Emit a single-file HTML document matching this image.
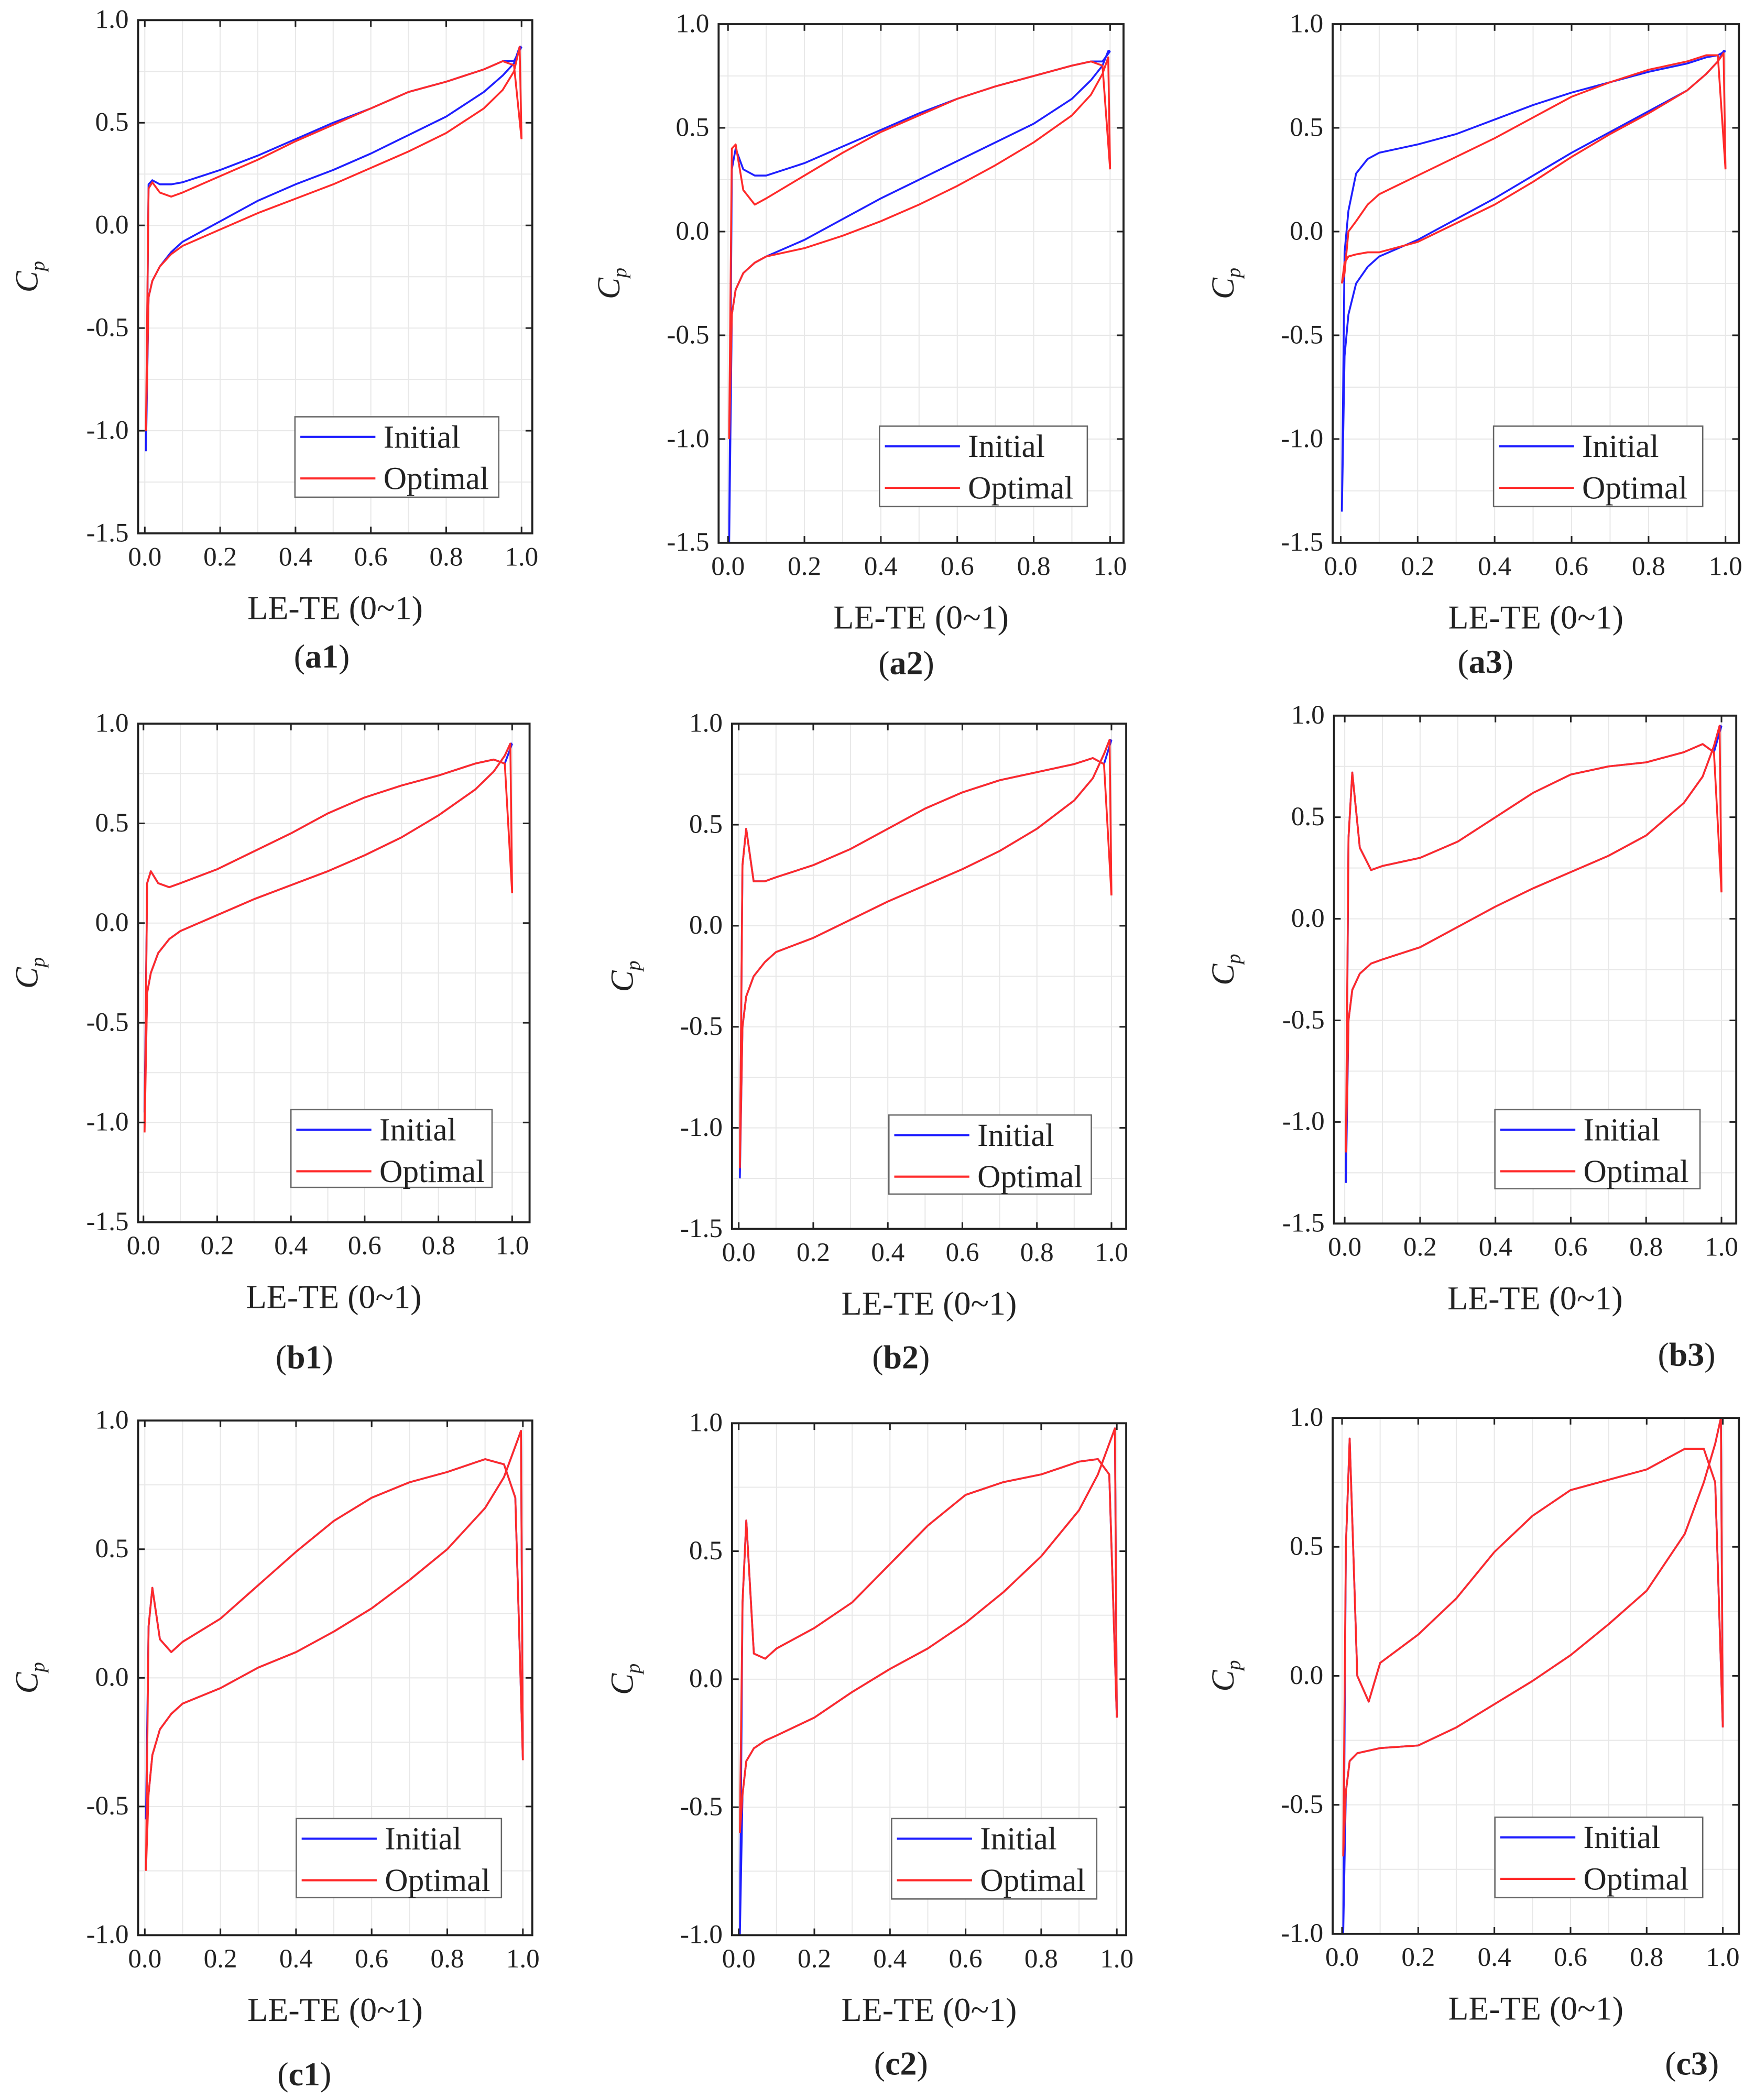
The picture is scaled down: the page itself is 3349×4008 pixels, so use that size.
<!DOCTYPE html>
<html><head><meta charset="utf-8"><style>
html,body{margin:0;padding:0;background:#fff;}
svg{display:block;}
text{font-family:"Liberation Serif","Times New Roman",serif;fill:#222;}
</style></head><body>
<svg id="fig" width="3349" height="4008" viewBox="0 0 1309 1567" preserveAspectRatio="none" xmlns="http://www.w3.org/2000/svg"></svg>
<script>
// chordwise stations for upper and lower branches
const xs = [0.01,0.02,0.04,0.07,0.1,0.2,0.3,0.4,0.5,0.6,0.7,0.8,0.9,0.95,0.98];
const xTicks = [0,0.2,0.4,0.6,0.8,1.0];
const xTickLabels = ["0.0","0.2","0.4","0.6","0.8","1.0"];
const yTicksAB = [1.0,0.5,0.0,-0.5,-1.0,-1.5];
const yTickLabelsAB = ["1.0","0.5","0.0","-0.5","-1.0","-1.5"];
const yTicksC = [1.0,0.5,0.0,-0.5,-1.0];
const yTickLabelsC = ["1.0","0.5","0.0","-0.5","-1.0"];
const panelNames = ["a1","a2","a3","b1","b2","b3","c1","c2","c3"];

// a1
const a1InitUpper = [0.2,0.22,0.2,0.2,0.21,0.27,0.34,0.42,0.5,0.57,0.65,0.7,0.76,0.8,0.8];
const a1InitLower = [-0.35,-0.27,-0.2,-0.13,-0.08,0.02,0.12,0.2,0.27,0.35,0.44,0.53,0.65,0.73,0.79];
const a1OptUpper = [0.18,0.21,0.16,0.14,0.16,0.24,0.32,0.41,0.49,0.57,0.65,0.7,0.76,0.8,0.78];
const a1OptLower = [-0.35,-0.27,-0.2,-0.14,-0.1,-0.02,0.06,0.13,0.2,0.28,0.36,0.45,0.57,0.66,0.75];
const a1LeMin = [-1.1,-1.0]; const a1TePeak = [0.87,0.87]; const a1TeEnd = [0.87,0.42];
// a2
const a2InitUpper = [0.3,0.4,0.3,0.27,0.27,0.33,0.41,0.49,0.57,0.64,0.7,0.75,0.8,0.82,0.82];
const a2InitLower = [-0.4,-0.28,-0.2,-0.15,-0.12,-0.04,0.06,0.16,0.25,0.34,0.43,0.52,0.64,0.73,0.8];
const a2OptUpper = [0.4,0.42,0.2,0.13,0.16,0.27,0.38,0.48,0.56,0.64,0.7,0.75,0.8,0.82,0.8];
const a2OptLower = [-0.4,-0.28,-0.2,-0.15,-0.12,-0.08,-0.02,0.05,0.13,0.22,0.32,0.43,0.56,0.66,0.76];
const a2LeMin = [-1.5,-1.0]; const a2TePeak = [0.87,0.84]; const a2TeEnd = [0.87,0.3];
// a3
const a3InitUpper = [-0.1,0.1,0.28,0.35,0.38,0.42,0.47,0.54,0.61,0.67,0.72,0.77,0.81,0.84,0.85];
const a3InitLower = [-0.6,-0.4,-0.25,-0.17,-0.12,-0.04,0.06,0.16,0.27,0.38,0.48,0.58,0.68,0.76,0.82];
const a3OptUpper = [-0.2,0.0,0.05,0.13,0.18,0.27,0.36,0.45,0.55,0.65,0.72,0.78,0.82,0.85,0.85];
const a3OptLower = [-0.15,-0.12,-0.11,-0.1,-0.1,-0.05,0.04,0.13,0.24,0.36,0.47,0.57,0.68,0.76,0.82];
const a3LeMin = [-1.35,-0.25]; const a3TePeak = [0.87,0.86]; const a3TeEnd = [0.87,0.3];
// b1
const b1Upper = [0.2,0.26,0.2,0.18,0.2,0.27,0.36,0.45,0.55,0.63,0.69,0.74,0.8,0.82,0.8];
const b1Lower = [-0.35,-0.25,-0.15,-0.08,-0.04,0.04,0.12,0.19,0.26,0.34,0.43,0.54,0.67,0.76,0.84];
const b1LeMin = [-0.95,-1.05]; const b1TePeak = [0.9,0.9]; const b1TeEnd = [0.9,0.15];
// b2
const b2Upper = [0.3,0.48,0.22,0.22,0.24,0.3,0.38,0.48,0.58,0.66,0.72,0.76,0.8,0.83,0.8];
const b2Lower = [-0.5,-0.35,-0.25,-0.18,-0.13,-0.06,0.03,0.12,0.2,0.28,0.37,0.48,0.62,0.73,0.85];
const b2LeMin = [-1.25,-1.2]; const b2TePeak = [0.92,0.92]; const b2TeEnd = [0.92,0.15];
// b3
const b3Upper = [0.4,0.72,0.35,0.24,0.26,0.3,0.38,0.5,0.62,0.71,0.75,0.77,0.82,0.86,0.82];
const b3Lower = [-0.5,-0.35,-0.27,-0.22,-0.2,-0.14,-0.04,0.06,0.15,0.23,0.31,0.41,0.57,0.7,0.85];
const b3LeMin = [-1.3,-1.15]; const b3TePeak = [0.95,0.95]; const b3TeEnd = [0.95,0.13];
// c1
const c1Upper = [0.2,0.35,0.15,0.1,0.14,0.23,0.36,0.49,0.61,0.7,0.76,0.8,0.85,0.83,0.7];
const c1Lower = [-0.45,-0.3,-0.2,-0.14,-0.1,-0.04,0.04,0.1,0.18,0.27,0.38,0.5,0.66,0.78,0.9];
const c1LeMin = [-0.55,-0.75]; const c1TePeak = [0.96,0.96]; const c1TeEnd = [-0.32,-0.32];
// c2
const c2Upper = [0.3,0.62,0.1,0.08,0.12,0.2,0.3,0.45,0.6,0.72,0.77,0.8,0.85,0.86,0.8];
const c2Lower = [-0.45,-0.32,-0.27,-0.24,-0.22,-0.15,-0.05,0.04,0.12,0.22,0.34,0.48,0.66,0.8,0.92];
const c2LeMin = [-1.0,-0.6]; const c2TePeak = [0.98,0.98]; const c2TeEnd = [-0.15,-0.15];
// c3
const c3Upper = [0.5,0.92,0.0,-0.1,0.05,0.16,0.3,0.48,0.62,0.72,0.76,0.8,0.88,0.88,0.75];
const c3Lower = [-0.45,-0.33,-0.3,-0.29,-0.28,-0.27,-0.2,-0.11,-0.02,0.08,0.2,0.33,0.55,0.75,0.9];
const c3LeMin = [-1.0,-0.7]; const c3TePeak = [1.0,1.0]; const c3TeEnd = [-0.2,-0.2];

const seriesData = {
 a1:{up:[a1InitUpper,a1OptUpper],lo:[a1InitLower,a1OptLower],le:a1LeMin,tp:a1TePeak,te:a1TeEnd},
 a2:{up:[a2InitUpper,a2OptUpper],lo:[a2InitLower,a2OptLower],le:a2LeMin,tp:a2TePeak,te:a2TeEnd},
 a3:{up:[a3InitUpper,a3OptUpper],lo:[a3InitLower,a3OptLower],le:a3LeMin,tp:a3TePeak,te:a3TeEnd},
 b1:{up:[b1Upper,b1Upper],lo:[b1Lower,b1Lower],le:b1LeMin,tp:b1TePeak,te:b1TeEnd},
 b2:{up:[b2Upper,b2Upper],lo:[b2Lower,b2Lower],le:b2LeMin,tp:b2TePeak,te:b2TeEnd},
 b3:{up:[b3Upper,b3Upper],lo:[b3Lower,b3Lower],le:b3LeMin,tp:b3TePeak,te:b3TeEnd},
 c1:{up:[c1Upper,c1Upper],lo:[c1Lower,c1Lower],le:c1LeMin,tp:c1TePeak,te:c1TeEnd},
 c2:{up:[c2Upper,c2Upper],lo:[c2Lower,c2Lower],le:c2LeMin,tp:c2TePeak,te:c2TeEnd},
 c3:{up:[c3Upper,c3Upper],lo:[c3Lower,c3Lower],le:c3LeMin,tp:c3TePeak,te:c3TeEnd}
};

// layout (display units)
const layout = {
 a1:{bl:103,br:397,x0:108,x1:389,yt:15,yb:398,ymin:-1.5,leg:[220,311,372,371],lab:[240,490],cpx:18},
 a2:{bl:536,br:838,x0:543,x1:828,yt:18,yb:405,ymin:-1.5,leg:[656,318,811,378],lab:[676,495],cpx:452},
 a3:{bl:994,br:1297,x0:1000,x1:1287,yt:18,yb:405,ymin:-1.5,leg:[1114,318,1270,378],lab:[1108,494],cpx:910},
 b1:{bl:103,br:395,x0:107,x1:382,yt:540,yb:912,ymin:-1.5,leg:[217,828,367,886],lab:[227,1013],cpx:18},
 b2:{bl:546,br:840,x0:551,x1:829,yt:540,yb:917,ymin:-1.5,leg:[663,832,814,891],lab:[672,1013],cpx:462},
 b3:{bl:995,br:1295,x0:1003,x1:1284,yt:534,yb:913,ymin:-1.5,leg:[1115,828,1268,887],lab:[1258,1011],cpx:910},
 c1:{bl:103,br:397,x0:108,x1:390,yt:1060,yb:1444,ymin:-1.0,leg:[221,1357,374,1416],lab:[227,1548],cpx:18},
 c2:{bl:546,br:840,x0:551,x1:833,yt:1062,yb:1444,ymin:-1.0,leg:[665,1357,818,1417],lab:[672,1540],cpx:462},
 c3:{bl:994,br:1297,x0:1001,x1:1285,yt:1058,yb:1443,ymin:-1.0,leg:[1115,1356,1270,1416],lab:[1262,1540],cpx:910}
};

const NS="http://www.w3.org/2000/svg";
const svg=document.getElementById('fig');
function mk(tag,attrs,parent){const e=document.createElementNS(NS,tag);for(const k in attrs)e.setAttribute(k,attrs[k]);(parent||svg).appendChild(e);return e;}

panelNames.forEach(p=>{
  const L=layout[p], D=seriesData[p];
  const g=mk('g',{});
  
  
  const sx=v=>L.x0+(L.x1-L.x0)*v;
  const sy=v=>L.yt+(1.0-v)/(1.0-L.ymin)*(L.yb-L.yt);
  for(let v=0;v<=1.0001;v+=0.1){const gl=mk('line',{x1:sx(v),x2:sx(v),y1:L.yt,y2:L.yb,stroke:'#e8e8e8','stroke-width':0.8},g);}
  for(let v=1.0;v>=L.ymin-0.001;v-=0.25){const gl=mk('line',{x1:L.bl,x2:L.br,y1:sy(v),y2:sy(v),stroke:'#e8e8e8','stroke-width':0.8},g);}
  const colors=['#1f1fff','#ff2a2a'];
  [0,1].forEach(i=>{
    const xsU=[0.003].concat(xs,[1.0]);
    const ysU=[D.le[i]].concat(D.up[i],[D.te[i]]);
    let d='M'+xsU.map((x,k)=>sx(x).toFixed(2)+','+sy(ysU[k]).toFixed(2)).join(' L');
    const ysL=[D.le[i]].concat(D.lo[i],[D.tp[i],D.te[i]]);
    const xsL=[0.003].concat(xs,[0.995,1.0]);
    d+=' M'+xsL.map((x,k)=>sx(x).toFixed(2)+','+sy(ysL[k]).toFixed(2)).join(' L');
    const path=mk('path',{d:d,fill:'none',stroke:colors[i],'stroke-width':1.4,'stroke-linejoin':'round'},g);
    
    
  });
  const fr=mk('rect',{x:L.bl,y:L.yt,width:L.br-L.bl,height:L.yb-L.yt,fill:'none',stroke:'#222','stroke-width':1.5},g);
  
  
  xTicks.forEach((v,k)=>{
    mk('line',{x1:sx(v),x2:sx(v),y1:L.yb,y2:L.yb-5,stroke:'#222','stroke-width':1.2},g);
    mk('line',{x1:sx(v),x2:sx(v),y1:L.yt,y2:L.yt+5,stroke:'#222','stroke-width':1.2},g);
    const t=mk('text',{x:sx(v),y:L.yb+24,'text-anchor':'middle','font-size':20},g);
    t.textContent=xTickLabels[k];
    
    
  });
  const yt=L.ymin<-1.2?yTicksAB:yTicksC, ytl=L.ymin<-1.2?yTickLabelsAB:yTickLabelsC;
  yt.forEach((v,k)=>{
    mk('line',{x1:L.bl,x2:L.bl+5,y1:sy(v),y2:sy(v),stroke:'#222','stroke-width':1.2},g);
    mk('line',{x1:L.br,x2:L.br-5,y1:sy(v),y2:sy(v),stroke:'#222','stroke-width':1.2},g);
    const t=mk('text',{x:L.bl-7,y:sy(v)+6,'text-anchor':'end','font-size':20},g);
    t.textContent=ytl[k];
    
    
  });
  const xt=mk('text',{x:(L.bl+L.br)/2,y:L.yb+64,'text-anchor':'middle','font-size':25},g);
  xt.textContent='LE-TE (0~1)';
  
  
  const cy=(L.yt+L.yb)/2;
  const ytt=mk('text',{x:L.cpx+10,y:cy,'text-anchor':'middle','font-size':24,'font-style':'italic',transform:'rotate(-90 '+(L.cpx+10)+' '+cy+')'},g);
  ytt.innerHTML='C<tspan font-size="15" dy="5">p</tspan>';
  
  
  const [lx1,ly1,lx2,ly2]=L.leg;
  const lg=mk('g',{},g);
  
  
  mk('rect',{x:lx1,y:ly1,width:lx2-lx1,height:ly2-ly1,fill:'#fff',stroke:'#666','stroke-width':1},lg);
  [['Initial','#1f1fff'],['Optimal','#ff2a2a']].forEach((e,k)=>{
    const yy=ly1+15+k*31;
    mk('line',{x1:lx1+4,x2:lx1+60,y1:yy,y2:yy,stroke:e[1],'stroke-width':1.6},lg);
    const t=mk('text',{x:lx1+66,y:yy+8,'font-size':24},lg);
    t.textContent=e[0];
    
    
  });
  const pl=mk('text',{x:L.lab[0],y:L.lab[1]+8,'text-anchor':'middle','font-size':25},g);
  pl.innerHTML='(<tspan font-weight="bold">'+p+'</tspan>)';
  
  
});
</script>
</body></html>
